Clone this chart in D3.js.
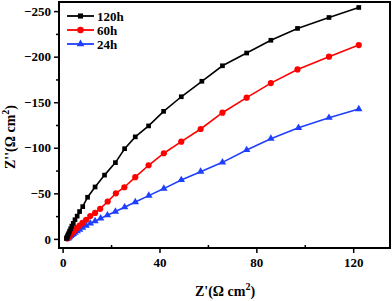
<!DOCTYPE html>
<html>
<head>
<meta charset="utf-8">
<script src="https://cdn.jsdelivr.net/npm/d3@7"></script>
<style>
  body { margin: 0; background: #fff; }
  text { font-family: "Liberation Serif", "DejaVu Serif", serif; font-weight: bold; }
</style>
</head>
<body>
<div id="chart"></div>
<script>
const svgWidth = 392;
const svgHeight = 301;
const margins = {top: 2, right: 2, bottom: 53, left: 59};

// Z' values (shared sweep) and -Z'' for each series
const zre120 = [1.6, 1.7, 1.9, 2.1, 2.3, 2.6, 2.9, 3.3, 3.8, 4.4, 5.1, 6.0, 7.0, 8.3, 10.3, 13.4, 17.3, 21.8, 25.6, 30, 35.5, 41.7, 49, 57.5, 66, 76, 86, 97, 110, 122.3];
const zim120 = [-0.5, -1.2, -2.2, -3.4, -4.8, -6.5, -8.5, -11, -14, -17, -21, -25, -30, -35.4, -45.7, -57, -70, -83.7, -99, -112, -124, -140, -156, -173, -190, -204, -218, -231, -243, -254];

const zre60 = [1.9, 2.1, 2.3, 2.6, 2.9, 3.3, 3.8, 4.4, 5.1, 6.0, 7.0, 8.2, 9.7, 11.4, 13.4, 15.5, 18.6, 22, 25.5, 30, 35.5, 41.8, 49, 57, 66, 76, 86, 97, 110, 122.3];
const zim60 = [-0.5, -1.1, -1.8, -2.7, -3.7, -4.9, -6.3, -8, -9.8, -12, -14.5, -17.5, -21, -25, -28.5, -33, -41, -50, -56.7, -67.7, -80.8, -94, -106.7, -120.6, -138.5, -155, -171, -186, -200, -212.7];

const zre24 = [2.1, 2.3, 2.6, 2.9, 3.3, 3.8, 4.4, 5.1, 6.0, 7.0, 8.2, 9.7, 11.4, 13.4, 15.7, 18.5, 21.8, 25.6, 30, 35.6, 41.8, 49, 57, 66, 76, 86, 97.4, 110, 122.3];
const zim24 = [-0.5, -1, -1.6, -2.4, -3.3, -4.4, -5.6, -7, -8.6, -10.3, -12.3, -14.5, -17, -19.5, -22.5, -26, -30, -34.8, -40.5, -47.5, -55.2, -64.7, -73.8, -84, -97.6, -110, -122, -133, -142.5];

const seriesNames = ["120h", "60h", "24h"];
const seriesColors = ["#000000", "#ff0000", "#1f3fff"];
const seriesSymbols = [d3.symbolSquare, d3.symbolCircle, d3.symbolTriangle];

const xTicks = [0, 40, 80, 120];
const xMinor = [20, 60, 100];
const yTicks = [0, -50, -100, -150, -200, -250];
const yMinor = [-25, -75, -125, -175, -225];

const allSeries = [
  {name: seriesNames[0], color: seriesColors[0], symbol: seriesSymbols[0], data: zre120.map((x, i) => [x, zim120[i]])},
  {name: seriesNames[1], color: seriesColors[1], symbol: seriesSymbols[1], data: zre60.map((x, i) => [x, zim60[i]])},
  {name: seriesNames[2], color: seriesColors[2], symbol: seriesSymbols[2], data: zre24.map((x, i) => [x, zim24[i]])}
];

const svg = d3.select("#chart")
  .append("svg")
  .attr("width", svgWidth)
  .attr("height", svgHeight);

const xScale = d3.scaleLinear()
  .domain([-1.5, 135.2])
  .range([margins.left, svgWidth - margins.right]);

const yScale = d3.scaleLinear()
  .domain([10, -260])
  .range([svgHeight - margins.bottom, margins.top]);

const bottomY = svgHeight - margins.bottom;

// x axis
const xAxis = svg.append("g")
  .attr("transform", "translate(0," + bottomY + ")")
  .call(d3.axisBottom(xScale).tickValues(xTicks).tickSize(5).tickPadding(5));
xAxis.select(".domain").remove();
xAxis.selectAll("text").attr("font-size", "13px").attr("fill", "#000")
  .style("font-family", "Liberation Serif, serif").style("font-weight", "bold");
xAxis.selectAll("line").attr("stroke-width", 1.5);

svg.append("g")
  .attr("transform", "translate(0," + bottomY + ")")
  .call(d3.axisBottom(xScale).tickValues(xMinor).tickSize(-3).tickFormat(""))
  .call(g => g.select(".domain").remove())
  .selectAll("line").attr("stroke-width", 1.5);

// y axis
const yAxis = svg.append("g")
  .attr("transform", "translate(" + margins.left + ",0)")
  .call(d3.axisLeft(yScale).tickValues(yTicks).tickSize(5).tickPadding(3));
yAxis.select(".domain").remove();
yAxis.selectAll("text").attr("font-size", "13px").attr("fill", "#000")
  .style("font-family", "Liberation Serif, serif").style("font-weight", "bold");
yAxis.selectAll("line").attr("stroke-width", 1.5);

svg.append("g")
  .attr("transform", "translate(" + margins.left + ",0)")
  .call(d3.axisLeft(yScale).tickValues(yMinor).tickSize(3).tickFormat(""))
  .call(g => g.select(".domain").remove())
  .selectAll("line").attr("stroke-width", 1.5);

// lines + markers
const line = d3.line()
  .x(d => xScale(d[0]))
  .y(d => yScale(d[1]));

// draw in reverse so black is on top as in the figure
allSeries.slice().reverse().forEach(function (s) {
  svg.append("path")
    .datum(s.data)
    .attr("fill", "none")
    .attr("stroke", s.color)
    .attr("stroke-width", 1.6)
    .attr("d", line);

  const size = s.symbol === d3.symbolCircle ? 30 : (s.symbol === d3.symbolTriangle ? 24 : 22);
  svg.append("g")
    .selectAll("path")
    .data(s.data)
    .join("path")
    .attr("transform", d => "translate(" + xScale(d[0]) + "," + yScale(d[1]) + ")")
    .attr("d", d3.symbol().type(s.symbol).size(size))
    .attr("fill", s.color);
});

// frame
svg.append("rect")
  .attr("x", margins.left)
  .attr("y", margins.top)
  .attr("width", svgWidth - margins.left - margins.right)
  .attr("height", svgHeight - margins.top - margins.bottom)
  .attr("fill", "none")
  .attr("stroke", "#000")
  .attr("stroke-width", 2);

// legend
const legend = svg.append("g");
allSeries.forEach(function (s, i) {
  const ly = 16 + i * 14;
  legend.append("line")
    .attr("x1", 67).attr("x2", 94)
    .attr("y1", ly).attr("y2", ly)
    .attr("stroke", s.color).attr("stroke-width", 1.8);
  const size = s.symbol === d3.symbolCircle ? 34 : 26;
  legend.append("path")
    .attr("transform", "translate(80.5," + ly + ")")
    .attr("d", d3.symbol().type(s.symbol).size(size))
    .attr("fill", s.color);
  legend.append("text")
    .attr("x", 97).attr("y", ly + 4.5)
    .attr("font-size", "13px")
    .text(s.name);
});

// axis titles
const xTitle = svg.append("text")
  .attr("x", 225).attr("y", 296)
  .attr("text-anchor", "middle")
  .attr("font-size", "14px");
xTitle.append("tspan").text("Z'(Ω cm");
xTitle.append("tspan").attr("dy", -6).attr("font-size", "10px").text("2");
xTitle.append("tspan").attr("dy", 6).text(")");

const yTitle = svg.append("text")
  .attr("transform", "translate(15,137) rotate(-90)")
  .attr("text-anchor", "middle")
  .attr("font-size", "14px");
yTitle.append("tspan").text("Z''(Ω cm");
yTitle.append("tspan").attr("dy", -6).attr("font-size", "10px").text("2");
yTitle.append("tspan").attr("dy", 6).text(")");
</script>
</body>
</html>
